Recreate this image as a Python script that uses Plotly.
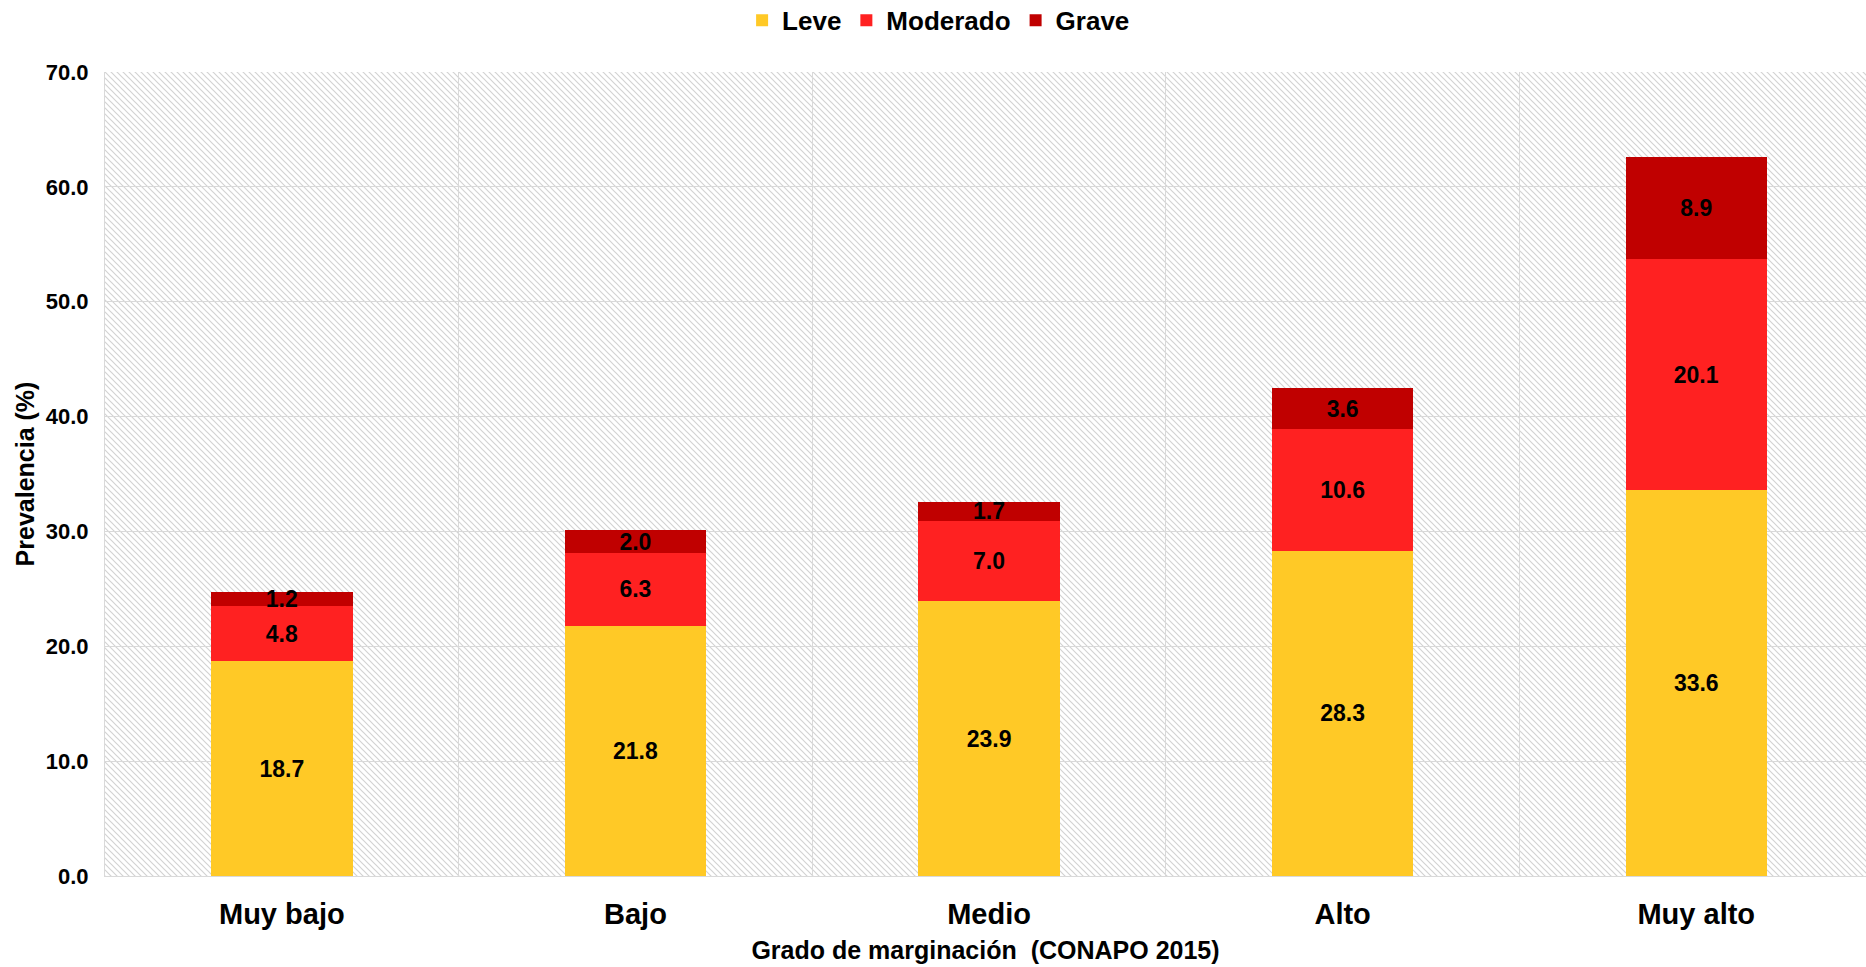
import base64
import plotly.graph_objects as go

categories = ["Muy bajo", "Bajo", "Medio", "Alto", "Muy alto"]
leve = [18.7, 21.8, 23.9, 28.3, 33.6]
moderado = [4.8, 6.3, 7.0, 10.6, 20.1]
grave = [1.2, 2.0, 1.7, 3.6, 8.9]
series_names = ["Leve", "Moderado", "Grave"]
y_ticks = [0, 10, 20, 30, 40, 50, 60, 70]

colors = ["#FFC926", "#FF2121", "#C00000"]
FONT = "Liberation Sans, Arial, sans-serif"

W, H = 1866, 967
ml, mr, mt, mb = 105, 0, 72, 91
pw, ph = W - ml - mr, H - mt - mb

# diagonal hatch background for the plot area
svg = f'''<svg xmlns="http://www.w3.org/2000/svg" width="{pw}" height="{ph}" viewBox="0 0 {pw} {ph}">
<defs><pattern id="h" width="6" height="6" patternUnits="userSpaceOnUse">
<path d="M0,0 L6,6 M-1,5 L1,7 M5,-1 L7,1" stroke="#d3d3d3" stroke-width="1.2"/>
</pattern></defs>
<rect width="100%" height="100%" fill="white"/>
<rect width="100%" height="100%" fill="url(#h)"/>
</svg>'''
src = "data:image/svg+xml;base64," + base64.b64encode(svg.encode()).decode()

fig = go.Figure()
for name, vals, col in zip(series_names, [leve, moderado, grave], colors):
    fig.add_trace(go.Bar(
        x=categories, y=vals, name=name,
        marker=dict(color=col, line=dict(width=0)),
        text=[f"{v:.1f}" for v in vals],
        textposition="inside", insidetextanchor="middle",
        constraintext="none",
        textfont=dict(family=FONT, size=23, color="black", weight="bold"),
        width=0.4,
    ))

fig.update_layout(
    barmode="stack",
    width=W, height=H,
    margin=dict(l=ml, r=mr, t=mt, b=mb),
    paper_bgcolor="white",
    plot_bgcolor="rgba(0,0,0,0)",
    uniformtext=dict(minsize=23, mode="show"),
    font=dict(family=FONT, color="black"),
    legend=dict(
        orientation="h", xref="container", yref="container",
        x=0.503, xanchor="center", y=0.979, yanchor="middle",
        traceorder="normal",
        font=dict(family=FONT, size=26, color="black", weight="bold"),
        itemwidth=30, bgcolor="rgba(0,0,0,0)",
    ),
    images=[dict(source=src, xref="paper", yref="paper", x=0, y=1,
                 sizex=1, sizey=1, xanchor="left", yanchor="top",
                 sizing="stretch", layer="below")],
    xaxis=dict(
        range=[-0.5, 4.48],
        tickson="boundaries", showgrid=True, gridcolor="#d9d9d9", gridwidth=1,
        showline=True, linecolor="#d9d9d9", linewidth=1, mirror=False,
        ticks="", ticklabelstandoff=12,
        tickfont=dict(family=FONT, size=29, color="black", weight="bold"),
        title=dict(text="Grado de marginación  (CONAPO 2015)", standoff=12,
                   font=dict(family=FONT, size=25, color="black", weight="bold")),
    ),
    yaxis=dict(
        range=[0, 70], tickvals=y_ticks, ticktext=[f"{v:.1f}" for v in y_ticks],
        showgrid=True, gridcolor="#d9d9d9", gridwidth=1,
        showline=True, linecolor="#d9d9d9", linewidth=1, mirror=True,
        zeroline=False, ticks="", ticklabelstandoff=11,
        tickfont=dict(family=FONT, size=22, color="black", weight="bold"),
        title=dict(text="Prevalencia (%)", standoff=4,
                   font=dict(family=FONT, size=25, color="black", weight="bold")),
    ),
)

fig.write_html("out.html", config={"displayModeBar": False},
               post_script="document.body.style.margin='0';document.body.style.overflow='hidden';")
